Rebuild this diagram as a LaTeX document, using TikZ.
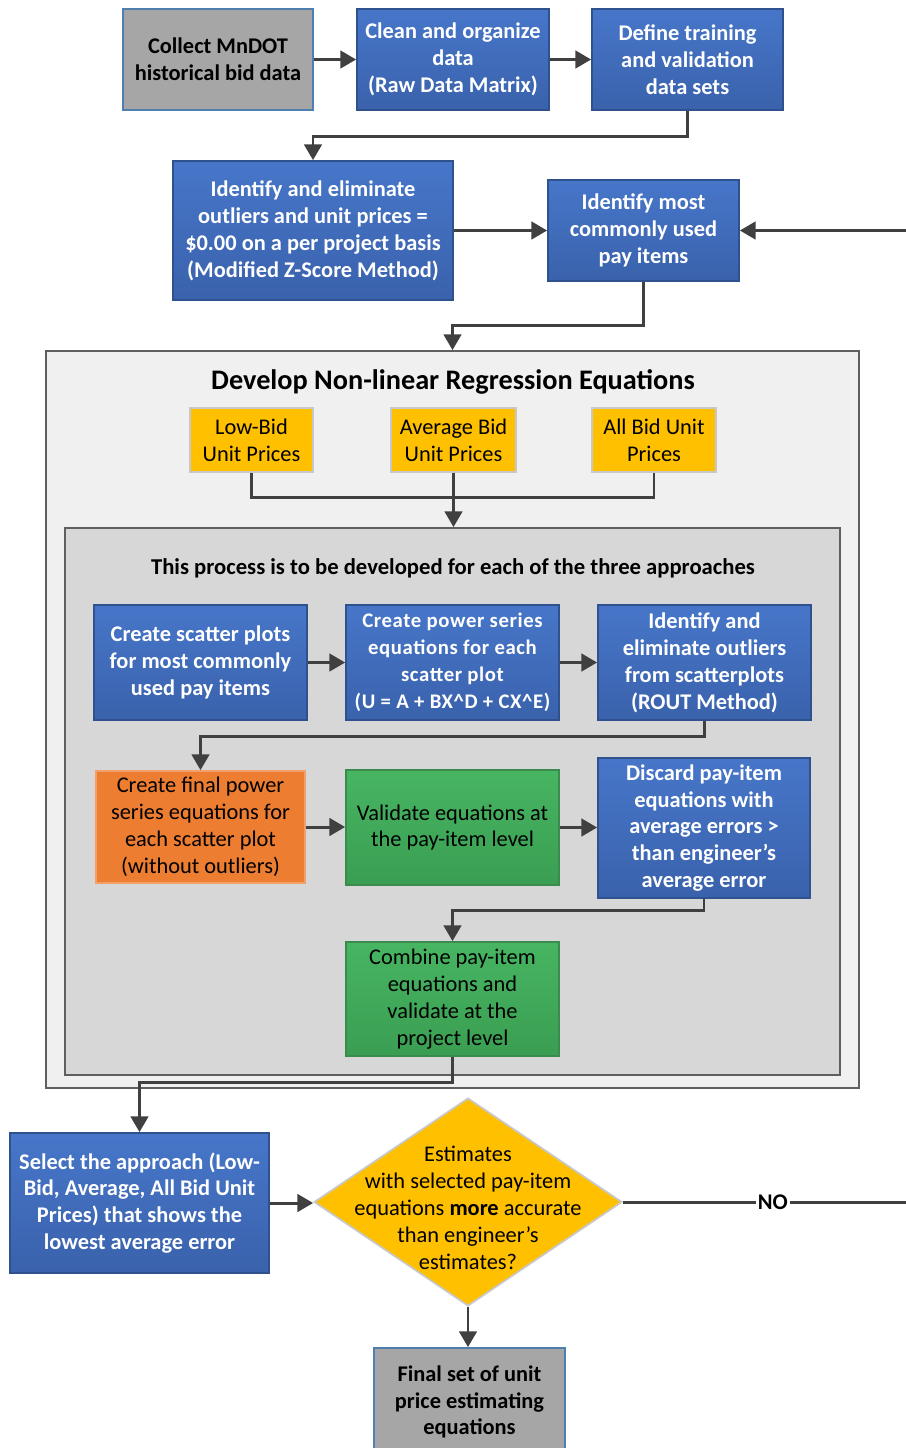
\documentclass[tikz,border=0pt]{standalone}
\usepackage{fontspec}
\setmainfont{Carlito}
\usetikzlibrary{arrows.meta,shapes.geometric,calc}

\definecolor{bluetop}{HTML}{4776C9}
\definecolor{bluebot}{HTML}{3A62AC}
\definecolor{blueedge}{HTML}{2F528F}
\definecolor{grayfill}{HTML}{A6A6A6}
\definecolor{grayedge}{HTML}{4F7FB0}
\definecolor{greentop}{HTML}{47B562}
\definecolor{greenbot}{HTML}{3A9E52}
\definecolor{greenedge}{HTML}{3B8B4E}
\definecolor{orangefill}{HTML}{ED7D31}
\definecolor{orangeedge}{HTML}{F2A06A}
\definecolor{goldfill}{HTML}{FFC000}
\definecolor{goldedge}{HTML}{C8C8C8}
\definecolor{outerfill}{HTML}{F0F0F0}
\definecolor{innerfill}{HTML}{D7D7D7}
\definecolor{frameedge}{HTML}{5F5F5F}
\definecolor{linec}{HTML}{404040}

\newcommand\bodysize{\fontsize{12.75}{15.3}\selectfont}

\tikzset{
  stdbox/.style={rectangle, inner sep=0pt, align=center, line width=1pt},
  bluebox/.style={stdbox, draw=blueedge, top color=bluetop, bottom color=bluebot,
    text=white, font=\bodysize\bfseries},
  graybox/.style={stdbox, draw=grayedge, fill=grayfill, text=black, font=\bodysize\bfseries},
  greenbox/.style={stdbox, draw=greenedge, top color=greentop, bottom color=greenbot,
    text=black, font=\bodysize},
  orangebox/.style={stdbox, draw=orangeedge, fill=orangefill, text=black, font=\bodysize},
  goldbox/.style={stdbox, draw=goldedge, fill=goldfill, text=black, font=\bodysize,
    minimum height=1.28cm},
  frame/.style={rectangle, draw=frameedge, line width=1.1pt, inner sep=0pt},
  decision/.style={diamond, draw=goldedge, fill=goldfill, line width=1pt, inner sep=0pt},
  link/.style={draw=linec, line width=1.7pt},
  conn/.style={link, -{Triangle[length=9pt,width=10pt]}},
}

\begin{document}
\begin{tikzpicture}[x=0.02cm,y=-0.02cm]
\useasboundingbox (0,0) rectangle (906,1448);

% top row
\node[graybox, minimum width=3.8cm, minimum height=2.02cm] (collect) at (218,59.5)
  {Collect MnDOT\\historical bid data};
\node[bluebox, minimum width=3.84cm, minimum height=2.02cm] (clean) at (453,59.5)
  {Clean and organize\\data\\(Raw Data Matrix)};
\node[bluebox, minimum width=3.82cm, minimum height=2.02cm] (define) at (687.5,59.5)
  {Define training\\and validation\\data sets};

% second row
\node[bluebox, minimum width=5.6cm, minimum height=2.78cm] (outliers) at (313,230.5)
  {Identify and eliminate\\outliers and unit prices =\\\$0.00 on a per project basis\\(Modified Z-Score Method)};
\node[bluebox, minimum width=3.82cm, minimum height=2.02cm] (most) at (643.5,230.5)
  {Identify most\\commonly used\\pay items};

% regression block
\node[frame, fill=outerfill, minimum width=16.26cm, minimum height=14.74cm] (dev) at (452.5,719.5) {};
\node[font=\fontsize{16.1}{19}\selectfont\bfseries, inner sep=0pt] (devtitle) at (453,382)
  {Develop Non-linear Regression Equations};

\node[goldbox, minimum width=2.46cm] (low) at (251.5,440) {Low-Bid\\Unit Prices};
\node[goldbox, minimum width=2.5cm] (avg) at (453.5,440) {Average Bid\\Unit Prices};
\node[goldbox, minimum width=2.48cm] (all) at (654,440) {All Bid Unit\\Prices};
\coordinate (merge) at (453.5,497);

\node[frame, fill=innerfill, minimum width=15.5cm, minimum height=10.94cm] (proc) at (452.5,801.5) {};
\node[font=\fontsize{12.9}{15.5}\selectfont\bfseries, inner sep=0pt] (proctitle) at (453,568)
  {This process is to be developed for each of the three approaches};

\node[bluebox, minimum width=4.26cm, minimum height=2.3cm] (scatter) at (200.5,662.5)
  {Create scatter plots\\for most commonly\\used pay items};
\node[bluebox, minimum width=4.26cm, minimum height=2.3cm,
      font=\fontsize{11.8}{15.3}\selectfont\bfseries\addfontfeature{LetterSpace=3}] (power) at (452.5,662.5)
  {Create power series\\equations for each\\scatter plot\\(U = A + BX\textasciicircum D + CX\textasciicircum E)};
\node[bluebox, minimum width=4.26cm, minimum height=2.3cm] (rout) at (704.5,662.5)
  {Identify and\\eliminate outliers\\from scatterplots\\(ROUT Method)};

\node[orangebox, minimum width=4.18cm, minimum height=2.24cm] (final) at (200.5,827)
  {Create final power\\series equations for\\each scatter plot\\(without outliers)};
\node[greenbox, minimum width=4.26cm, minimum height=2.3cm] (validate) at (452.5,827.5)
  {Validate equations at\\the pay-item level};
\node[bluebox, minimum width=4.24cm, minimum height=2.8cm] (discard) at (704,828)
  {Discard pay-item\\equations with\\average errors >\\than engineer’s\\average error};

\node[greenbox, minimum width=4.26cm, minimum height=2.28cm] (combine) at (452.5,999)
  {Combine pay-item\\equations and\\validate at the\\project level};

% selection and decision
\node[bluebox, minimum width=5.18cm, minimum height=2.8cm] (select) at (139.5,1203)
  {Select the approach (Low-\\Bid, Average, All Bid Unit\\Prices) that shows the\\lowest average error};
\node[decision, minimum width=6.16cm, minimum height=4.16cm] (dec) at (468,1202) {};
\node[font=\bodysize, align=center, inner sep=0pt] (dectext) at ([yshift=-6*0.02cm]dec.center)
  {Estimates\\with selected pay-item\\equations \textbf{more} accurate\\than engineer’s\\estimates?};
\node[graybox, minimum width=3.82cm, minimum height=2.16cm] (result) at (469.5,1402)
  {Final set of unit\\price estimating\\equations};

\coordinate (loopin) at (906,230.5);
\coordinate (loopout) at (906,1202);

% connectors
\draw[conn] (collect.east) -- (clean.west);
\draw[conn] (clean.east) -- (define.west);
\draw[conn] (define.south) -- ++(0,26) -| (outliers.north);
\draw[conn] (outliers.east) -- (outliers.east -| most.west);
\draw[conn] (loopin) -- (most.east);
\draw[conn] (most.south) -- ++(0,44) -| (dev.north);
\draw[link] (low.south) |- (merge);
\draw[link] (all.south) |- (merge);
\draw[conn] (avg.south) -- (avg.south |- proc.north);
\draw[conn] (scatter.east) -- (power.west);
\draw[conn] (power.east) -- (rout.west);
\draw[conn] (rout.south) -- ++(0,16) -| (final.north);
\draw[conn] (final.east) -- (final.east -| validate.west);
\draw[conn] (validate.east) -- (validate.east -| discard.west);
\draw[conn] (discard.south) -- ++(0,12) -| (combine.north);
\draw[conn] (combine.south) -- ++(0,26) -| (select.north);
\draw[conn] (select.east) -- (select.east -| dec.west);
\draw[link] (dec.east) -- (loopout)
  node[pos=0.53, fill=white, inner sep=1pt, font=\bodysize\bfseries] (no) {NO};
\draw[conn] (dec.south) -- (dec.south |- result.north);
\end{tikzpicture}
\end{document}
